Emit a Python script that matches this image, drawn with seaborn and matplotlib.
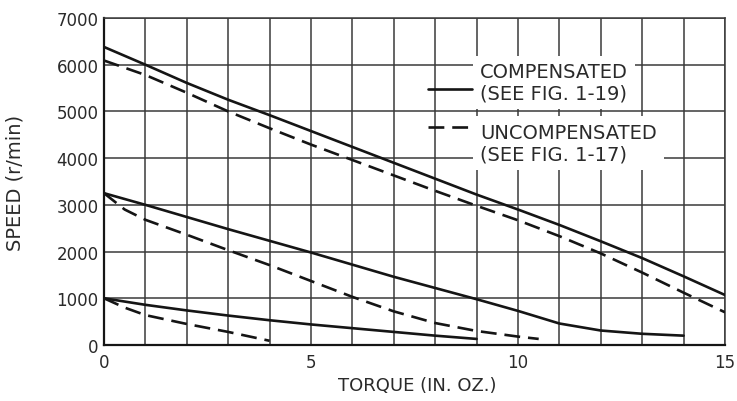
import numpy as np
import pandas as pd
import matplotlib
matplotlib.use("Agg")
import matplotlib.pyplot as plt
from matplotlib.lines import Line2D
import seaborn as sns

# ---- data ----
top_comp_torque = [0, 1, 2, 3, 4, 5, 6, 7, 8, 9, 10, 11, 12, 13, 14, 15]
top_comp_speed = [6380, 6000, 5610, 5250, 4920, 4580, 4240, 3900, 3560, 3220, 2900, 2570, 2220, 1860, 1470, 1070]

top_uncomp_torque = [0, 1, 2, 3, 4, 5, 6, 7, 8, 9, 10, 11, 12, 13, 14, 15]
top_uncomp_speed = [6090, 5780, 5400, 5000, 4640, 4290, 3960, 3630, 3300, 2980, 2670, 2330, 1960, 1550, 1120, 700]

mid_comp_torque = [0, 1, 2, 3, 4, 5, 6, 7, 8, 9, 10, 11, 12, 13, 14]
mid_comp_speed = [3250, 3000, 2740, 2480, 2230, 1980, 1720, 1460, 1220, 980, 730, 460, 310, 240, 200]

mid_uncomp_torque = [0, 0.5, 1, 2, 3, 4, 5, 6, 7, 8, 9, 10, 10.5]
mid_uncomp_speed = [3250, 2900, 2680, 2360, 2030, 1710, 1370, 1030, 720, 470, 300, 180, 130]

low_comp_torque = [0, 1, 2, 3, 4, 5, 6, 7, 8, 9]
low_comp_speed = [1000, 860, 740, 630, 530, 440, 360, 280, 200, 130]

low_uncomp_torque = [0, 0.5, 1, 2, 3, 4]
low_uncomp_speed = [1000, 800, 640, 450, 280, 90]

x_major_ticks = [0, 5, 10, 15]
y_ticks = [0, 1000, 2000, 3000, 4000, 5000, 6000, 7000]
legend_comp = "COMPENSATED\n(SEE FIG. 1-19)"
legend_uncomp = "UNCOMPENSATED\n(SEE FIG. 1-17)"
x_label = "TORQUE (IN. OZ.)"
y_label = "SPEED (r/min)"

# ---- long-form table ----
series = [
    ("top_comp", "comp", top_comp_torque, top_comp_speed),
    ("top_uncomp", "uncomp", top_uncomp_torque, top_uncomp_speed),
    ("mid_comp", "comp", mid_comp_torque, mid_comp_speed),
    ("mid_uncomp", "uncomp", mid_uncomp_torque, mid_uncomp_speed),
    ("low_comp", "comp", low_comp_torque, low_comp_speed),
    ("low_uncomp", "uncomp", low_uncomp_torque, low_uncomp_speed),
]
frames = []
for name, kind, t, s in series:
    frames.append(pd.DataFrame({"torque": t, "speed": s, "curve": name, "type": kind}))
df = pd.concat(frames, ignore_index=True)

sns.set_theme(style="white")
plt.rcParams["font.family"] = ["DejaVu Sans"]

ink = "#151515"
text_c = "#2a2a2a"
grid_c = "#3a3a3a"

fig = plt.figure(figsize=(7.37, 4.02), dpi=100)
ax = fig.add_axes([104 / 737, 1 - 346 / 402, 621 / 737, 327 / 402])

sns.lineplot(
    data=df, x="torque", y="speed", units="curve", style="type",
    estimator=None, sort=False, color=ink, linewidth=1.9,
    dashes={"comp": "", "uncomp": (6, 3)}, legend=False, ax=ax, zorder=5,
)

ax.set_xlim(0, 15)
ax.set_ylim(0, 7000)
ax.set_xticks(x_major_ticks)
ax.set_xticks(np.arange(0, 16, 1), minor=True)
ax.set_yticks(y_ticks)
ax.grid(True, which="both", color=grid_c, linewidth=1.1)
ax.tick_params(axis="both", which="both", length=0)
ax.tick_params(axis="y", pad=4, labelsize=12, labelcolor=text_c)
ax.tick_params(axis="x", pad=6, labelsize=12, labelcolor=text_c)

for side in ["left", "bottom"]:
    ax.spines[side].set_linewidth(1.6)
    ax.spines[side].set_color(ink)
for side in ["top", "right"]:
    ax.spines[side].set_linewidth(1.1)
    ax.spines[side].set_color(grid_c)

ax.set_xlabel(x_label, fontsize=13, color=text_c)
ax.set_ylabel(y_label, fontsize=14, color=text_c)
ax.xaxis.set_label_coords(0.504, -0.122)
ax.xaxis.label.set_va("center")
ax.yaxis.set_label_coords(-(104 - 15) / 621, 0.5)
ax.yaxis.label.set_va("center")

# legend block drawn inside the plot
box = dict(boxstyle="square,pad=0.35", fc="white", ec="none")
ax.text(0.6055, 0.8028, legend_comp, transform=ax.transAxes, fontsize=14,
        color=text_c, ha="left", va="center", linespacing=1.15, bbox=box, zorder=6)
ax.text(0.6055, 0.6177, legend_uncomp, transform=ax.transAxes, fontsize=14,
        color=text_c, ha="left", va="center", linespacing=1.15, bbox=box, zorder=6)
ax.add_line(Line2D([0.522, 0.593], [0.783, 0.783], transform=ax.transAxes,
                   color=ink, linewidth=1.9, zorder=7))
ax.add_line(Line2D([0.522, 0.593], [0.666, 0.666], transform=ax.transAxes,
                   color=ink, linewidth=1.9, dashes=(6, 3), zorder=7))

fig.savefig("out.png", dpi=100, facecolor="white")
